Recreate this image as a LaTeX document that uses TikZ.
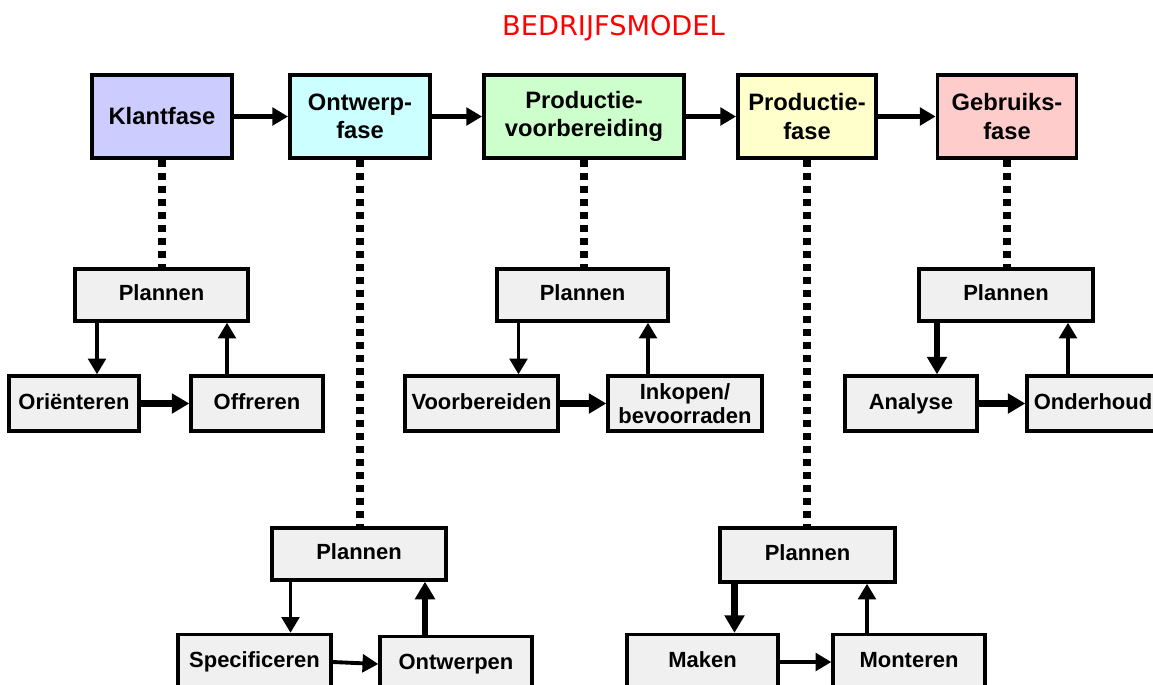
\documentclass[tikz,border=0pt]{standalone}
\usepackage{fontspec}
\newfontfamily\arial{Liberation Sans}
\newfontfamily\verdana{DejaVu Sans}
\usepackage{tikz}
\usetikzlibrary{arrows.meta, calc}
\usepackage{xcolor}

\definecolor{klantkleur}{HTML}{CCCCFF}
\definecolor{ontwerpkleur}{HTML}{CCFFFF}
\definecolor{voorbkleur}{HTML}{CCFFCC}
\definecolor{productkleur}{HTML}{FFFFCC}
\definecolor{gebruikkleur}{HTML}{FFCCCC}
\definecolor{stapkleur}{HTML}{F0F0F0}

\tikzset{
  fase/.style={draw, line width=2.2pt, minimum height=83*0.02cm, align=center,
    font=\arial\bfseries\fontsize{13.5}{16}\selectfont},
  stap/.style={draw, line width=1.9pt, fill=stapkleur, minimum height=55*0.02cm, align=center,
    text height=0.8em, text depth=0.15em,
    font=\arial\bfseries\fontsize{12.5}{14}\selectfont},
  bw/.style={minimum width=#1*0.02cm},
  pijl/.style={line width=2.8pt, -{Triangle[length=9pt,width=10pt]}},
  dun/.style={line width=2.2pt, -{Triangle[length=9pt,width=10pt]}},
  dik/.style={line width=3.8pt, -{Triangle[length=10pt,width=11pt]}},
  stippel/.style={line width=4pt, dash pattern=on 4pt off 3.4pt}
}

\begin{document}
\begin{tikzpicture}[x=0.02cm, y=-0.02cm]

\useasboundingbox (0,0) rectangle (1153,684);

% -------------------------
% Title
% -------------------------
\node[text=red, font=\verdana\fontsize{15.5}{18}\selectfont] (titel) at (613.5,28) {BEDRIJFSMODEL};

% -------------------------
% Phases
% -------------------------
\node[fase, bw=140, fill=klantkleur]   (klant)   at (162,116.5) {Klantfase};
\node[fase, bw=140, fill=ontwerpkleur] (ontwerp) at (360,116.5) {Ontwerp-\\fase};
\node[fase, bw=200, fill=voorbkleur]   (voorb)   at (584,116.5) {Productie-\\voorbereiding};
\node[fase, bw=138, fill=productkleur] (product) at (807,116.5) {Productie-\\fase};
\node[fase, bw=139, fill=gebruikkleur] (gebruik) at (1007,116.5) {Gebruiks-\\fase};

\draw[pijl] (klant.east) -- (ontwerp.west);
\draw[pijl] (ontwerp.east) -- (voorb.west);
\draw[pijl] (voorb.east) -- (product.west);
\draw[pijl] (product.east) -- (gebruik.west);

% -------------------------
% Klantfase cycle
% -------------------------
\node[stap, bw=173, minimum height=52*0.02cm] (planA) at (161.5,295) {Plannen};
\node[stap, bw=130] (orienteren) at (74,403.5) {Oriënteren};
\node[stap, bw=132] (offreren)   at (257,403.5) {Offreren};

\draw[stippel] (klant.south) -- (klant.south |- planA.north);
\draw[dun] ($(planA.south -| orienteren.north)+(23,0)$) -- ($(orienteren.north)+(23,0)$);
\draw[dik] (orienteren.east) -- (offreren.west);
\draw[dun] ($(offreren.north)+(-30,0)$) -- ($(planA.south -| offreren.north)+(-30,0)$);

% -------------------------
% Ontwerpfase cycle
% -------------------------
\node[stap, bw=174, minimum height=52*0.02cm] (planB) at (359,554) {Plannen};
\node[stap, bw=153] (specificeren) at (254.5,662) {Specificeren};
\node[stap, bw=152] (ontwerpen)    at (456,664) {Ontwerpen};

\draw[stippel] (ontwerp.south) -- (ontwerp.south |- planB.north);
\draw[dun] ($(planB.south -| specificeren.north)+(36,0)$) -- ($(specificeren.north)+(36,0)$);
\draw[dun] (specificeren.east) -- (ontwerpen.west);
\draw[dik] ($(ontwerpen.north)+(-31,0)$) -- ($(planB.south -| ontwerpen.north)+(-31,0)$);

% -------------------------
% Productievoorbereiding cycle
% -------------------------
\node[stap, bw=171, minimum height=52*0.02cm] (planC) at (582.5,295) {Plannen};
\node[stap, bw=153] (voorbereiden) at (481.5,403.5) {Voorbereiden};
\node[stap, bw=154, text height=, text depth=] (inkopen) at (685,403.5) {Inkopen/\\bevoorraden};

\draw[stippel] (voorb.south) -- (voorb.south |- planC.north);
\draw[dun] ($(planC.south -| voorbereiden.north)+(37,0)$) -- ($(voorbereiden.north)+(37,0)$);
\draw[dik] (voorbereiden.east) -- (inkopen.west);
\draw[dun] ($(inkopen.north)+(-37,0)$) -- ($(planC.south -| inkopen.north)+(-37,0)$);

% -------------------------
% Productiefase cycle
% -------------------------
\node[stap, bw=175, minimum height=54*0.02cm] (planD) at (807.5,555) {Plannen};
\node[stap, bw=151] (maken)    at (702.5,662) {Maken};
\node[stap, bw=152] (monteren) at (909,662) {Monteren};

\draw[stippel] (product.south) -- (product.south |- planD.north);
\draw[dik] ($(planD.south -| maken.north)+(32,0)$) -- ($(maken.north)+(32,0)$);
\draw[dun] (maken.east) -- (monteren.west);
\draw[dun] ($(monteren.north)+(-42,0)$) -- ($(planD.south -| monteren.north)+(-42,0)$);

% -------------------------
% Gebruiksfase cycle
% -------------------------
\node[stap, bw=174, minimum height=52*0.02cm] (planE) at (1006,295) {Plannen};
\node[stap, bw=132] (analyse)   at (911,403.5) {Analyse};
\node[stap, bw=132] (onderhoud) at (1093,403.5) {Onderhoud};

\draw[stippel] (gebruik.south) -- (gebruik.south |- planE.north);
\draw[dik] ($(planE.south -| analyse.north)+(26,0)$) -- ($(analyse.north)+(26,0)$);
\draw[dik] (analyse.east) -- (onderhoud.west);
\draw[dun] ($(onderhoud.north)+(-25,0)$) -- ($(planE.south -| onderhoud.north)+(-25,0)$);

\end{tikzpicture}
\end{document}
